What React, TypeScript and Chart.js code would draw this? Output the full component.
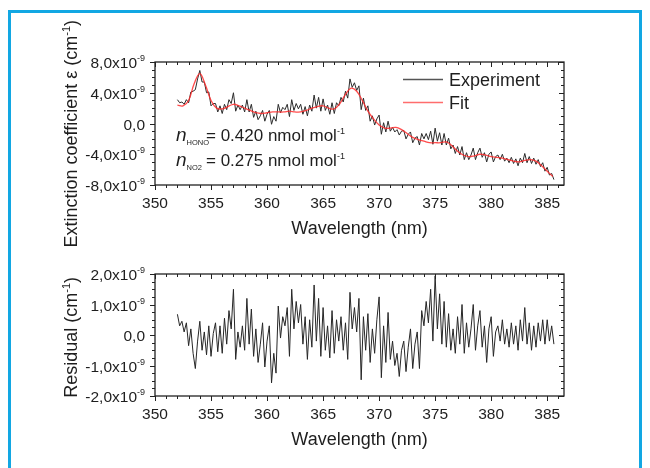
import React, { useEffect, useRef } from "react";
import { Chart, registerables } from "chart.js";

Chart.register(...registerables);

// ---------- DATA (values in units of 1e-9 cm^-1) ----------
const X_START = 352.0;
const X_STEP = 0.2;

const EXPERIMENT = [
  3.1, 2.7, 2.8, 2.5, 3.1,
  2.7, 4.1, 4.2, 4.4, 5.8,
  6.9, 5.4, 5.4, 4.0, 4.1,
  2.3, 2.6, 2.6, 1.5, 2.3,
  1.3, 2.5, 1.8, 3.1, 2.6,
  4.0, 1.6, 2.4, 1.8, 2.4,
  1.5, 3.1, 1.5, 2.5, 0.8,
  1.6, 0.5, 1.0, 1.7, 0.3,
  1.2, 1.7, -0.1, 0.9, 0.3,
  2.5, 1.4, 2.1, 1.8, 2.5,
  0.9, 3.1, 1.7, 2.6, 1.9,
  2.5, 1.2, 2.2, 1.0, 2.4,
  1.6, 3.7, 2.0, 3.4, 1.6,
  3.2, 1.7, 2.4, 1.2, 2.7,
  1.3, 2.7, 2.3, 3.4, 2.8,
  4.2, 3.3, 5.8, 4.7, 5.3,
  4.3, 4.9, 1.8, 3.3, 1.7,
  2.3, 0.3, 1.0, -0.2, 0.6,
  1.1, -1.4, 0.1, -1.1, 0.3,
  -1.0, -0.5, -1.1, -0.8, -1.5,
  -1.0, -0.9, -2.0, -1.4, -1.1,
  -2.5, -1.9, -1.7, -2.8, -1.3,
  -2.0, -1.3, -2.1, -1.0, -2.7,
  -0.6, -2.3, -1.2, -2.8, -1.3,
  -2.8, -1.9, -3.3, -2.8, -3.9,
  -3.0, -4.1, -3.0, -4.7, -3.8,
  -4.7, -4.1, -3.2, -4.7, -3.8,
  -3.2, -4.4, -3.8, -5.0, -4.0,
  -3.7, -5.0, -4.3, -4.1, -4.7,
  -4.0, -4.9, -4.5, -5.1, -4.4,
  -5.2, -4.6, -5.5, -4.5, -5.1,
  -3.9, -5.1, -4.3, -5.2, -4.5,
  -5.3, -4.7, -5.6, -5.1, -6.2,
  -5.7, -6.7, -6.5, -7.3,
];

const RESIDUAL = [
  0.68, 0.30, 0.45, 0.10, 0.40,
  -0.35, 0.20, -0.60, -1.10, -0.20,
  0.45, -0.50, 0.10, -0.65, 0.30,
  -0.70, 0.05, 0.40, -0.55, 0.30,
  -0.60, 0.55, -0.30, 0.80, 0.20,
  1.50, -0.80, 0.10, -0.40, 0.30,
  -0.50, 1.20, -0.30, 0.85, -0.70,
  0.20, -0.90, -0.30, 0.40, -1.05,
  -0.20, 0.30, -1.57, -0.60, -1.25,
  0.95, -0.10, 0.60, 0.30, 0.90,
  -0.70, 1.50, 0.20, 1.10, 0.40,
  1.00, -0.30, 0.60, -0.80, 0.50,
  -0.40, 1.64, -0.20, 1.20, -0.70,
  0.90, -0.50, 0.30, -0.75, 0.80,
  -0.60, 0.50, -0.20, 0.60, -0.50,
  0.40, -0.80, 1.40, 0.20, 0.90,
  0.10, 1.20, -1.47, 0.60, -0.50,
  0.70, -0.90, 0.20, -0.60, 0.50,
  1.25, -1.40, 0.30, -0.90, 0.74,
  -0.80, -0.20, -1.00, -0.60, -1.36,
  -0.50, -0.20, -1.20, -0.40, 0.20,
  -1.10, -0.30, 0.10, -1.10, 0.80,
  0.30, 1.10, 0.40, 1.50, -0.20,
  1.94, 0.20, 1.35, -0.30, 1.10,
  -0.40, 0.70, -0.50, 0.20, -0.60,
  0.60, -0.30, 1.00, -0.60, 0.40,
  -0.40, 0.20, 1.00, -0.50, 0.30,
  0.80, -0.40, 0.30, -0.90, 0.20,
  0.60, -0.70, 0.10, 0.30, -0.20,
  0.50, -0.30, 0.20, -0.40, 0.40,
  -0.30, 0.30, -0.50, 0.50, -0.20,
  0.90, -0.30, 0.40, -0.50, 0.30,
  -0.40, 0.40, -0.20, 0.50, -0.30,
  0.50, -0.20, 0.30, -0.30,
];

const FIT_X_START = 352.0;
const FIT_X_STEP = 0.5;
const FIT = [
  2.4, 2.3, 3.0, 5.2, 6.5, 5.0, 3.0, 2.0, 1.9, 2.2,
  2.5, 2.3, 2.0, 1.7, 1.4, 1.3, 1.4, 1.5, 1.5, 1.5,
  1.6, 1.5, 1.5, 1.7, 2.0, 2.2, 2.3, 2.0, 1.9, 2.6,
  3.8, 4.6, 4.2, 3.0, 1.6, 0.6, -0.2, -0.6, -0.6, -0.5,
  -0.8, -1.3, -1.8, -2.1, -2.3, -2.5, -2.5, -2.5, -2.4, -2.9,
  -3.6, -4.1, -4.3, -4.2, -4.0, -4.1, -4.3, -4.4, -4.5, -4.7,
  -4.9, -5.0, -4.8, -4.7, -4.9, -5.5, -6.2, -6.9,
];

const X_TICKS = [350, 355, 360, 365, 370, 375, 380, 385];
const X_TICK_LABELS = ["350", "355", "360", "365", "370", "375", "380", "385"];

const TOP_Y_TICKS = [8, 4, 0, -4, -8];
const TOP_Y_LABELS = ["8,0x10", "4,0x10", "0,0", "-4,0x10", "-8,0x10"];

const RES_Y_TICKS = [2, 1, 0, -1, -2];
const RES_Y_LABELS = ["2,0x10", "1,0x10", "0,0", "-1,0x10", "-2,0x10"];

const EXP_LABEL = "-9";
const LEGEND_LABELS = ["Experiment", "Fit"];

// ---------- STYLE ----------
const FONT = '"Liberation Sans", Arial, Helvetica, sans-serif';
const TXT = "#1e1e1e";
const PLOT_LEFT = 155;
const PLOT_RIGHT = 564;
const W = 650;
const H = 468;

type Part = { t: string; size: number; dy?: number; italic?: boolean };

function drawRich(ctx: CanvasRenderingContext2D, parts: Part[], x: number, y: number, align: "left" | "right" | "center") {
  let total = 0;
  const widths = parts.map((p) => {
    ctx.font = `${p.italic ? "italic " : ""}${p.size}px ${FONT}`;
    const w = ctx.measureText(p.t).width;
    total += w;
    return w;
  });
  let cx = align === "left" ? x : align === "right" ? x - total : x - total / 2;
  ctx.textAlign = "left";
  ctx.textBaseline = "alphabetic";
  parts.forEach((p, i) => {
    ctx.font = `${p.italic ? "italic " : ""}${p.size}px ${FONT}`;
    ctx.fillText(p.t, cx, y + (p.dy || 0));
    cx += widths[i];
  });
}

type FrameCfg = {
  yTicks: number[];
  yLabels: string[];
  yMinorCount: number;
  yMin: number;
  yMax: number;
  title: string;
  titleTop: number;
};

function framePlugin(cfg: FrameCfg) {
  return {
    id: "frame",
    afterDatasetsDraw(chart: any) {
      const ctx: CanvasRenderingContext2D = chart.ctx;
      const { left, right, top, bottom } = chart.chartArea;
      const xs = chart.scales.x;
      const ys = chart.scales.y;
      ctx.save();
      ctx.strokeStyle = "#222";
      ctx.lineWidth = 1.3;
      ctx.strokeRect(left, top, right - left, bottom - top);

      ctx.lineWidth = 1;
      ctx.beginPath();
      for (let v = 350; v <= 386; v++) {
        const px = Math.round(xs.getPixelForValue(v)) + 0.5;
        const major = X_TICKS.includes(v);
        const len = major ? 5 : 3;
        ctx.moveTo(px, bottom);
        ctx.lineTo(px, bottom + len);
        ctx.moveTo(px, top);
        ctx.lineTo(px, top + len);
      }
      const step = (cfg.yTicks[0] - cfg.yTicks[1]) / (cfg.yMinorCount + 1);
      const n = Math.round((cfg.yMax - cfg.yMin) / step);
      for (let i = 0; i <= n; i++) {
        const v = cfg.yMin + i * step;
        const py = Math.round(ys.getPixelForValue(v)) + 0.5;
        const major = i % (cfg.yMinorCount + 1) === 0;
        const len = major ? 5 : 3;
        ctx.moveTo(left, py);
        ctx.lineTo(left - len, py);
        ctx.moveTo(right, py);
        ctx.lineTo(right - len, py);
      }
      ctx.stroke();

      ctx.fillStyle = TXT;
      X_TICKS.forEach((v, i) => {
        drawRich(ctx, [{ t: X_TICK_LABELS[i], size: 15.5 }], xs.getPixelForValue(v), bottom + 22.5, "center");
      });
      cfg.yTicks.forEach((v, i) => {
        const py = ys.getPixelForValue(v);
        const parts: Part[] = [{ t: cfg.yLabels[i], size: 15.5 }];
        if (v !== 0) parts.push({ t: EXP_LABEL, size: 9, dy: -7 });
        drawRich(ctx, parts, left - 10, py + 6, "right");
      });
      drawRich(ctx, [{ t: "Wavelength (nm)", size: 18 }], (left + right) / 2, bottom + 49, "center");
      ctx.save();
      ctx.translate(77, cfg.titleTop);
      ctx.rotate(-Math.PI / 2);
      drawRich(
        ctx,
        [
          { t: cfg.title + " (cm", size: 18 },
          { t: "-1", size: 11, dy: -7 },
          { t: ")", size: 18 },
        ],
        0,
        0,
        "right"
      );
      ctx.restore();
      ctx.restore();
    },
  };
}

const annotationPlugin = {
  id: "annot",
  afterDraw(chart: any) {
    const ctx: CanvasRenderingContext2D = chart.ctx;
    ctx.save();
    ctx.fillStyle = TXT;
    ctx.lineWidth = 1.3;
    ctx.strokeStyle = "#555";
    ctx.beginPath();
    ctx.moveTo(403, 79.5);
    ctx.lineTo(443, 79.5);
    ctx.stroke();
    ctx.strokeStyle = "rgba(255,60,60,0.75)";
    ctx.beginPath();
    ctx.moveTo(403, 102.5);
    ctx.lineTo(443, 102.5);
    ctx.stroke();
    drawRich(ctx, [{ t: LEGEND_LABELS[0], size: 18 }], 449, 86, "left");
    drawRich(ctx, [{ t: LEGEND_LABELS[1], size: 18 }], 449, 109, "left");
    drawRich(ctx, [{ t: "n", size: 19, italic: true }, { t: "HONO", size: 7.5, dy: 4 }], 176, 141, "left");
    drawRich(ctx, [{ t: "= 0.420 nmol mol", size: 17 }, { t: "-1", size: 9, dy: -7 }], 206, 141, "left");
    drawRich(ctx, [{ t: "n", size: 19, italic: true }, { t: "NO2", size: 7.5, dy: 4 }], 176, 166, "left");
    drawRich(ctx, [{ t: "= 0.275 nmol mol", size: 17 }, { t: "-1", size: 9, dy: -7 }], 206, 166, "left");
    ctx.restore();
  },
};

function baseOptions(padTop: number, padBottom: number, yMin: number, yMax: number) {
  return {
    responsive: false,
    animation: false as const,
    events: [] as any[],
    layout: { padding: { left: PLOT_LEFT, right: W - PLOT_RIGHT, top: padTop, bottom: H - padBottom } },
    scales: {
      x: { type: "linear" as const, min: 350, max: 386.5, display: false },
      y: { type: "linear" as const, min: yMin, max: yMax, display: false },
    },
    plugins: { legend: { display: false }, tooltip: { enabled: false } },
    elements: { point: { radius: 0 } },
  };
}

export default function App() {
  const topRef = useRef<HTMLCanvasElement>(null);
  const botRef = useRef<HTMLCanvasElement>(null);

  useEffect(() => {
    const expPts = EXPERIMENT.map((y, i) => ({ x: +(X_START + i * X_STEP).toFixed(1), y }));
    const resPts = RESIDUAL.map((y, i) => ({ x: +(X_START + i * X_STEP).toFixed(1), y }));
    const fitPts = FIT.map((y, i) => ({ x: FIT_X_START + i * FIT_X_STEP, y }));

    const top = new Chart(topRef.current!, {
      type: "line",
      data: {
        datasets: [
          { label: "Fit", data: fitPts, borderColor: "rgba(255,45,45,0.85)", borderWidth: 1.3, tension: 0.4, order: 0 },
          { label: "Experiment", data: expPts, borderColor: "#2b2b2b", borderWidth: 1, tension: 0, order: 1 },
        ],
      },
      options: baseOptions(62, 185, -8, 8) as any,
      plugins: [
        framePlugin({
          yTicks: TOP_Y_TICKS,
          yLabels: TOP_Y_LABELS,
          yMinorCount: 3,
          yMin: -8,
          yMax: 8,
          title: "Extinction coefficient ε",
          titleTop: 20,
        }),
        annotationPlugin,
      ],
    });

    const bot = new Chart(botRef.current!, {
      type: "line",
      data: {
        datasets: [{ label: "Residual", data: resPts, borderColor: "#262626", borderWidth: 1, tension: 0 }],
      },
      options: baseOptions(274, 396, -2, 2) as any,
      plugins: [
        framePlugin({
          yTicks: RES_Y_TICKS,
          yLabels: RES_Y_LABELS,
          yMinorCount: 3,
          yMin: -2,
          yMax: 2,
          title: "Residual",
          titleTop: 277,
        }),
      ],
    });

    return () => {
      top.destroy();
      bot.destroy();
    };
  }, []);

  const cstyle: React.CSSProperties = { position: "absolute", left: 0, top: 0, width: W, height: H };
  return (
    <div style={{ position: "fixed", left: 0, top: 0, width: W, height: H, overflow: "hidden", background: "#fff" }}>
      <div
        style={{
          position: "absolute",
          left: 8,
          top: 10,
          width: 634,
          height: 480,
          borderLeft: "3px solid #12a7e3",
          borderTop: "3px solid #12a7e3",
          borderRight: "3px solid #12a7e3",
          boxSizing: "border-box",
        }}
      />
      <canvas ref={botRef} width={W} height={H} style={cstyle} />
      <canvas ref={topRef} width={W} height={H} style={cstyle} />
    </div>
  );
}
